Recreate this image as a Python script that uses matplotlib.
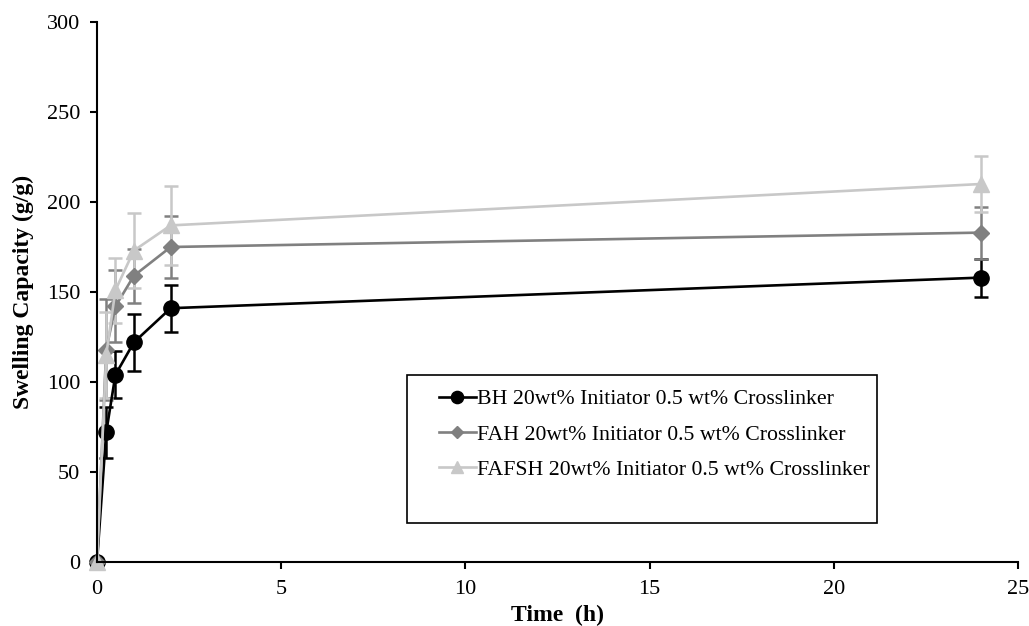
import matplotlib
matplotlib.use("Agg")
import matplotlib.pyplot as plt
from matplotlib.lines import Line2D
from matplotlib.patches import Rectangle

# 时间点 (h)
time_h = [0, 0.25, 0.5, 1, 2, 24]

bh = [0, 72, 104, 122, 141, 158]
bh_err = [0, 14, 13, 16, 13, 10.5]
fah = [0, 118, 142, 159, 175, 183]
fah_err = [0, 28, 20, 15, 17, 14.5]
fafsh = [0, 115, 151, 173, 187, 210]
fafsh_err = [0, 24, 18, 21, 22, 15.5]

labels = ["BH 20wt% Initiator 0.5 wt% Crosslinker",
          "FAH 20wt% Initiator 0.5 wt% Crosslinker",
          "FAFSH 20wt% Initiator 0.5 wt% Crosslinker"]

plt.rcParams["font.family"] = ["Liberation Serif", "DejaVu Serif"]

fig = plt.figure(figsize=(10.29, 6.26), dpi=100)
ax = fig.add_axes([97/1029, 64/626, 921/1029, 540/626])

styles = [("black", "o", 11), ("#808080", "D", 8), ("#c8c8c8", "^", 11)]
series = [(bh, bh_err), (fah, fah_err), (fafsh, fafsh_err)]
handles = []
for (y, e), (c, m, ms), lab in zip(series, styles, labels):
    ax.errorbar(time_h, y, yerr=e, color=c, marker=m, ms=ms, lw=1.9,
                elinewidth=1.8, capsize=5, capthick=1.8, clip_on=False)
    handles.append(Line2D([], [], color=c, marker=m, ms=ms * 0.8, lw=1.9, label=lab))

ax.set_xlim(0, 25)
ax.set_ylim(0, 300)
ax.set_xticks(range(0, 26, 5))
ax.set_yticks(range(0, 301, 50))
for s in ["top", "right"]:
    ax.spines[s].set_visible(False)
for s in ["left", "bottom"]:
    ax.spines[s].set_linewidth(1.5)
ax.tick_params(direction="out", length=5, width=1.5, labelsize=16)
ax.tick_params(axis="y", pad=7)
ax.tick_params(axis="x", pad=8)
ax.set_xlabel("Time  (h)", fontsize=17, fontweight="bold", labelpad=4)
ax.set_ylabel("Swelling Capacity (g/g)", fontsize=17, fontweight="bold", labelpad=9.5)

# 图例框比条目高,单独画框
ax.add_patch(Rectangle((0.3366, 0.0722), 0.5103, 0.2741, transform=ax.transAxes,
                       fill=False, ec="black", lw=1.2, clip_on=False, zorder=5))
ax.legend(handles=handles, loc="upper left", bbox_to_anchor=(0.371, 0.32),
          fontsize=15.7, frameon=False, handlelength=1.7, handletextpad=0.05,
          labelspacing=0.69, borderpad=0, borderaxespad=0)

fig.savefig("out.png", dpi=100)
